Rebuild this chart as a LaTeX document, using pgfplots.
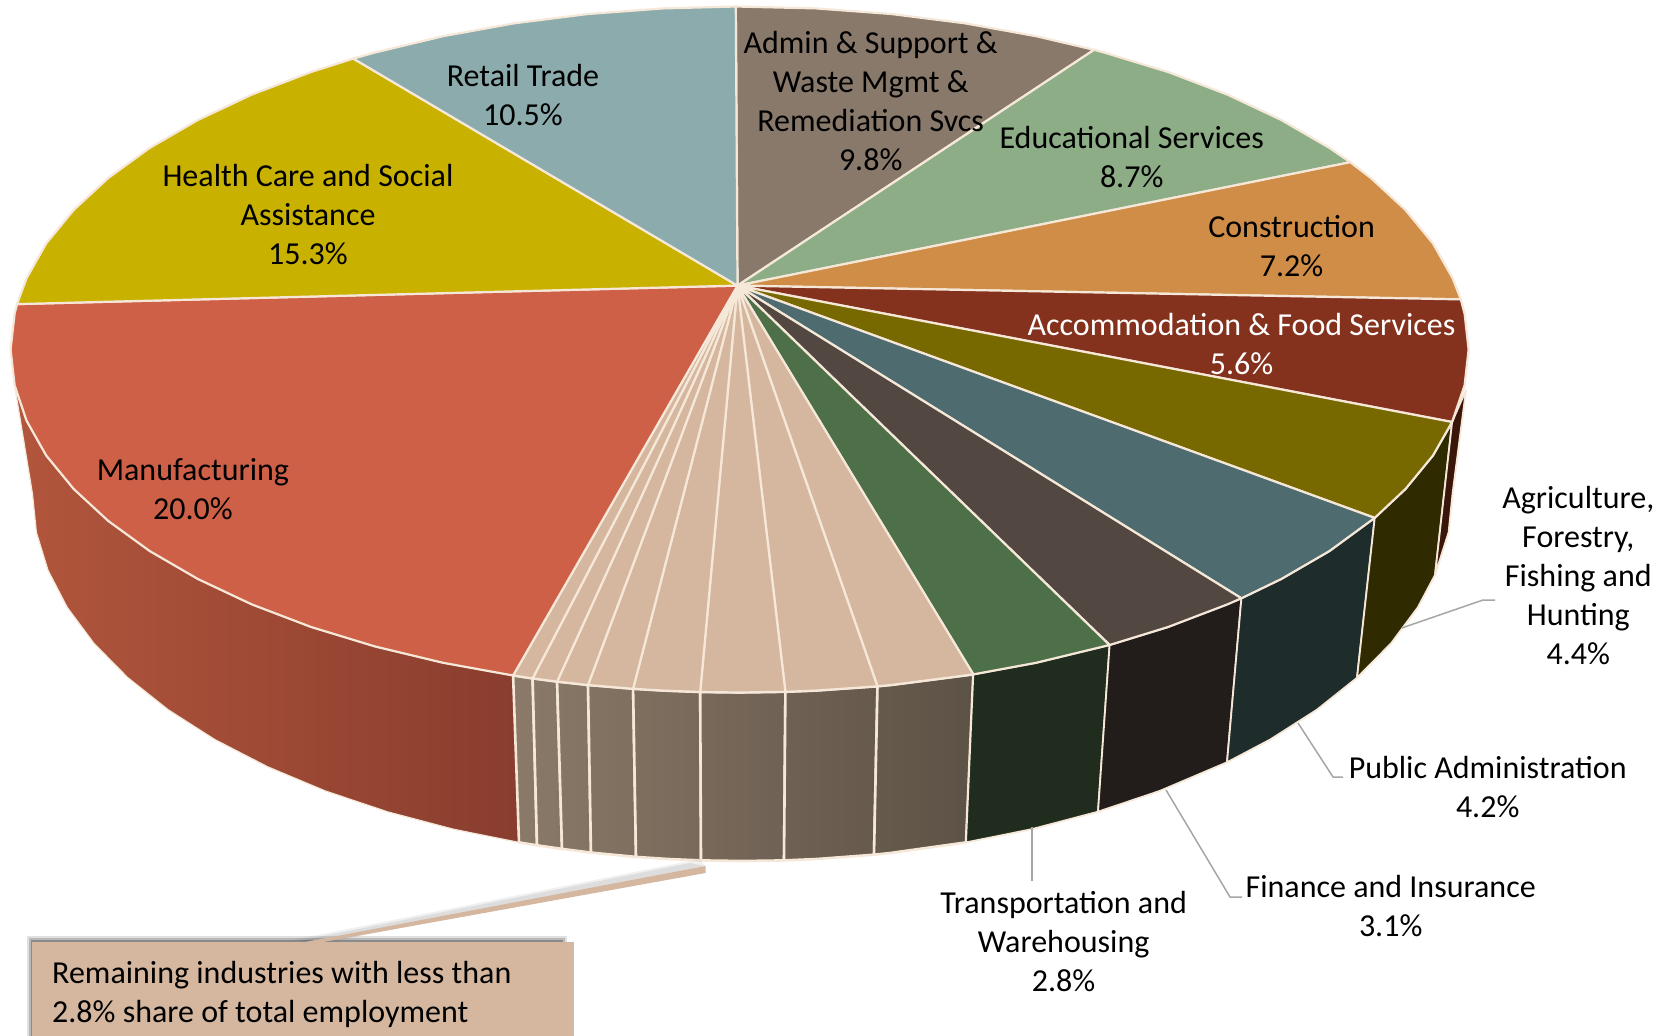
\documentclass[border=0pt]{standalone}
\usepackage{fontspec}
\setmainfont{Carlito}
\usepackage{pgfplots}
\pgfplotsset{compat=1.18}
\definecolor{rim}{RGB}{246,232,216}
\definecolor{leader}{RGB}{166,166,166}
\definecolor{tan}{RGB}{213,183,159}
\definecolor{cAdmin}{RGB}{136,121,107}
\definecolor{cEdu}{RGB}{141,173,135}
\definecolor{cCons}{RGB}{207,141,71}
\definecolor{cAccom}{RGB}{132,50,30}
\definecolor{cAgri}{RGB}{120,104,0}
\definecolor{cPub}{RGB}{78,108,111}
\definecolor{cFin}{RGB}{82,71,65}
\definecolor{cTrans}{RGB}{78,112,73}
\definecolor{cManu}{RGB}{207,96,72}
\definecolor{cHealth}{RGB}{201,177,0}
\definecolor{cRetail}{RGB}{139,171,173}
\definecolor{sManuL}{RGB}{178,86,60}
\definecolor{sManuR}{RGB}{137,61,46}
\definecolor{sAccom}{RGB}{58,21,9}
\definecolor{sAgri}{RGB}{47,42,0}
\definecolor{sPub}{RGB}{31,44,44}
\definecolor{sFin}{RGB}{34,29,26}
\definecolor{sTrans}{RGB}{32,44,30}
\definecolor{r0}{RGB}{139,122,105}
\definecolor{r1}{RGB}{137,120,103}
\definecolor{r2}{RGB}{134,118,101}
\definecolor{r3}{RGB}{131,115,99}
\definecolor{r4}{RGB}{126,111,95}
\definecolor{r5}{RGB}{120,105,90}
\definecolor{r6}{RGB}{111,97,84}
\definecolor{r7}{RGB}{102,90,76}
\definecolor{r8}{RGB}{93,82,70}
\pgfplotsset{
  wedge/.style={draw=rim, line width=2.2pt, line join=round, fill=#1},
  side/.style={draw=rim, line width=1.8pt, line join=round, fill=#1},
  grade/.style 2 args={draw=rim, line width=2.6pt, line join=round, left color=#1, right color=#2},
  lead/.style={draw=leader, line width=1.5pt}
}
\tikzset{lab/.style={font=\fontsize{32}{39}\selectfont, align=center, text=black, inner sep=0pt}}
\begin{document}
\begin{tikzpicture}
\path[use as bounding box] (0,0) rectangle (1671pt,1036pt);
\begin{axis}[
  at={(0,0)}, anchor=south west,
  width=1671pt, height=1036pt, scale only axis,
  xmin=0, xmax=1671, ymin=0, ymax=1036,
  y dir=reverse,
  axis lines=none,
  enlargelimits=false
]
% side walls
\addplot[draw=rim, line width=1.2pt, line join=round, left color=sManuL, right color=sManuR] coordinates {
  (513.1,675.5) (443.1,662.8) (375.1,646.5) (311.1,627.0) (251.8,604.4) (197.9,579.0) (149.8,551.1)
  (108.3,521.0) (73.7,489.0) (46.2,455.5) (26.6,420.8) (14.6,385.3) (32.5,494) (36.4,532.4) (48.0,570.3)
  (67.2,607.4) (93.9,643.3) (127.6,677.5) (168.1,709.7) (214.9,739.6) (267.5,766.7) (325.2,790.9)
  (387.5,811.8) (453.8,829.3) (519,842.4)
} --cycle;
\addplot[grade={r0}{r1}] coordinates {(513.1,675.5) (532.6,678.4) (537,845.3) (519,842.4)} --cycle;
\addplot[grade={r1}{r2}] coordinates {(532.6,678.4) (557.1,681.6) (562,848.9) (537,845.3)} --cycle;
\addplot[grade={r2}{r3}] coordinates {(557.1,681.6) (588.0,685.0) (591,852.6) (562,848.9)} --cycle;
\addplot[grade={r3}{r4}] coordinates {(588.0,685.0) (633.1,688.8) (636,856.9) (591,852.6)} --cycle;
\addplot[grade={r4}{r5}] coordinates {(633.1,688.8) (663.4,690.6) (700.2,692.0) (701,860.4) (668.3,859.0) (636,856.9)} --cycle;
\addplot[grade={r5}{r6}] coordinates {(700.2,692.0) (739.6,692.5) (785.4,691.8) (784,860.4) (742.5,861) (701,860.4)} --cycle;
\addplot[grade={r6}{r7}] coordinates {(785.4,691.8) (815.8,690.6) (877.5,686.3) (874,854.7) (816.7,859.0) (784,860.4)} --cycle;
\addplot[grade={r7}{r8}] coordinates {(877.5,686.3) (891.2,685.0) (973.3,674.4) (966,842.4) (890.1,853.0) (874,854.7)} --cycle;
\addplot[side=sTrans] coordinates {(973.3,674.4) (1036.1,662.8) (1109.6,645.0) (1098,811.7) (1031.2,829.3) (966,842.4)} --cycle;
\addplot[side=sFin] coordinates {(1109.6,645.0) (1168.1,627.0) (1241.4,598.3) (1227,762.3) (1159.8,790.9) (1098,811.7)} --cycle;
\addplot[side=sPub] coordinates {(1241.4,598.3) (1281.3,579.0) (1329.4,551.1) (1374.7,517.9) (1357,677.8) (1316.9,709.7) (1270.1,739.6) (1227,762.3)} --cycle;
\addplot[side=sAgri] coordinates {(1374.7,517.9) (1405.5,489.0) (1433.0,455.5) (1452.1,422.0) (1435,575) (1417.8,607.4) (1391.1,643.3) (1357,677.8)} --cycle;
\addplot[side=sAccom] coordinates {(1466,390) (1452.1,422.0) (1435,575) (1448.6,532.4) (1452.5,494)} --cycle;
% top face
\addplot[wedge=cAdmin] coordinates {(737.5,285.6) (735.8,6.5) (815.8,8.4) (891.2,14.0) (964.9,23.3) (1036.1,36.2) (1094.1,49.8)} --cycle;
\addplot[wedge=cEdu] coordinates {(737.5,285.6) (1094.1,49.8) (1104.1,52.5) (1168.1,72.0) (1227.4,94.6) (1281.3,120.0) (1329.4,147.9) (1350.3,162.2)} --cycle;
\addplot[wedge=cCons] coordinates {(737.5,285.6) (1350.3,162.2) (1370.9,178.0) (1405.5,210.0) (1433.0,243.5) (1452.6,278.2) (1460.8,299.4)} --cycle;
\addplot[wedge=cAccom] coordinates {(737.5,285.6) (1460.8,299.4) (1464.6,313.7) (1468.6,349.5) (1464.6,385.3) (1452.1,422.0)} --cycle;
\addplot[wedge=cAgri] coordinates {(737.5,285.6) (1452.1,422.0) (1433.0,455.5) (1405.5,489.0) (1374.7,517.9)} --cycle;
\addplot[wedge=cPub] coordinates {(737.5,285.6) (1374.7,517.9) (1329.4,551.1) (1281.3,579.0) (1241.4,598.3)} --cycle;
\addplot[wedge=cFin] coordinates {(737.5,285.6) (1241.4,598.3) (1227.4,604.4) (1168.1,627.0) (1109.6,645.0)} --cycle;
\addplot[wedge=cTrans] coordinates {(737.5,285.6) (1109.6,645.0) (1036.1,662.8) (973.3,674.4)} --cycle;
\addplot[wedge=tan] coordinates {(737.5,285.6) (973.3,674.4) (891.2,685.0) (877.5,686.3)} --cycle;
\addplot[wedge=tan] coordinates {(737.5,285.6) (877.5,686.3) (815.8,690.6) (785.4,691.8)} --cycle;
\addplot[wedge=tan] coordinates {(737.5,285.6) (785.4,691.8) (739.6,692.5) (700.2,692.0)} --cycle;
\addplot[wedge=tan] coordinates {(737.5,285.6) (700.2,692.0) (663.4,690.6) (633.1,688.8)} --cycle;
\addplot[wedge=tan] coordinates {(737.5,285.6) (633.1,688.8) (588.0,685.0)} --cycle;
\addplot[wedge=tan] coordinates {(737.5,285.6) (588.0,685.0) (557.1,681.6)} --cycle;
\addplot[wedge=tan] coordinates {(737.5,285.6) (557.1,681.6) (532.6,678.4)} --cycle;
\addplot[wedge=tan] coordinates {(737.5,285.6) (532.6,678.4) (513.1,675.5)} --cycle;
\addplot[wedge=cManu] coordinates {
  (737.5,285.6) (513.1,675.5) (443.1,662.8) (375.1,646.5) (311.1,627.0) (251.8,604.4) (197.9,579.0)
  (149.8,551.1) (108.3,521.0) (73.7,489.0) (46.2,455.5) (26.6,420.8) (14.6,385.3) (10.6,349.5)
  (14.6,313.7) (17.0,304.1)
} --cycle;
\addplot[wedge=cHealth] coordinates {
  (737.5,285.6) (17.0,304.1) (26.6,278.2) (46.2,243.5) (73.7,210.0) (108.3,178.0) (149.8,147.9)
  (197.9,120.0) (251.8,94.6) (311.1,72.0) (353.3,58.6)
} --cycle;
\addplot[wedge=cRetail] coordinates {
  (737.5,285.6) (353.3,58.6) (375.1,52.5) (443.1,36.2) (514.3,23.3) (588.0,14.0) (663.4,8.4) (735.8,6.5)
} --cycle;
% leader lines
\addplot[lead] coordinates {(1401.7,628) (1483,600) (1495,600)};
\addplot[lead] coordinates {(1298,723) (1333,777) (1343,777)};
\addplot[lead] coordinates {(1166,790) (1230,897) (1242,897)};
\addplot[lead] coordinates {(1032,827) (1032,881)};
% callout shadow and box
\addplot[draw=none, fill=black, fill opacity=0.12] coordinates {(27,936) (567,936) (567,1036) (27,1036)} --cycle;
\addplot[draw=none, fill=black, fill opacity=0.18] coordinates {(29,938) (565,938) (565,1036) (29,1036)} --cycle;
\addplot[draw=none, fill=black, fill opacity=0.25] coordinates {(31,940) (563,940) (563,1036) (31,1036)} --cycle;
\addplot[draw=none, fill=black, fill opacity=0.06] coordinates {(292,940) (700,859) (705,866) (330,942)} --cycle;
\addplot[draw=none, fill=black, fill opacity=0.08] coordinates {(298,941) (690,863) (705,866) (322,942)} --cycle;
\addplot[draw=none, fill=tan] coordinates {(300,943) (705.5,866) (705.5,873) (318,943)} --cycle;
\addplot[draw=none, fill=tan] coordinates {(32,942) (574,942) (574,1036) (32,1036)} --cycle;
% labels
\node[lab] at (axis cs:523,94.8) {Retail Trade\\10.5\%};
\node[lab] at (axis cs:870.7,100.6) {Admin \& Support \&\\Waste Mgmt \&\\Remediation Svcs\\9.8\%};
\node[lab] at (axis cs:1131.7,156.7) {Educational Services\\8.7\%};
\node[lab] at (axis cs:1291.6,245.6) {Construction\\7.2\%};
\node[lab, text=white] at (axis cs:1241.5,343.8) {Accommodation \& Food Services\\5.6\%};
\node[lab] at (axis cs:308,214.9) {Health Care and Social\\Assistance\\15.3\%};
\node[lab] at (axis cs:192.9,489.6) {Manufacturing\\20.0\%};
\node[lab] at (axis cs:1578.3,575.9) {Agriculture,\\Forestry,\\Fishing and\\Hunting\\4.4\%};
\node[lab] at (axis cs:1487.7,786.9) {Public Administration\\4.2\%};
\node[lab] at (axis cs:1390.7,906.5) {Finance and Insurance\\3.1\%};
\node[lab] at (axis cs:1063.6,941.4) {Transportation and\\Warehousing\\2.8\%};
\node[lab, align=left, anchor=west] at (axis cs:52,994.9) {Remaining industries with less than\\2.8\% share of total employment};
\end{axis}
\end{tikzpicture}
\end{document}
